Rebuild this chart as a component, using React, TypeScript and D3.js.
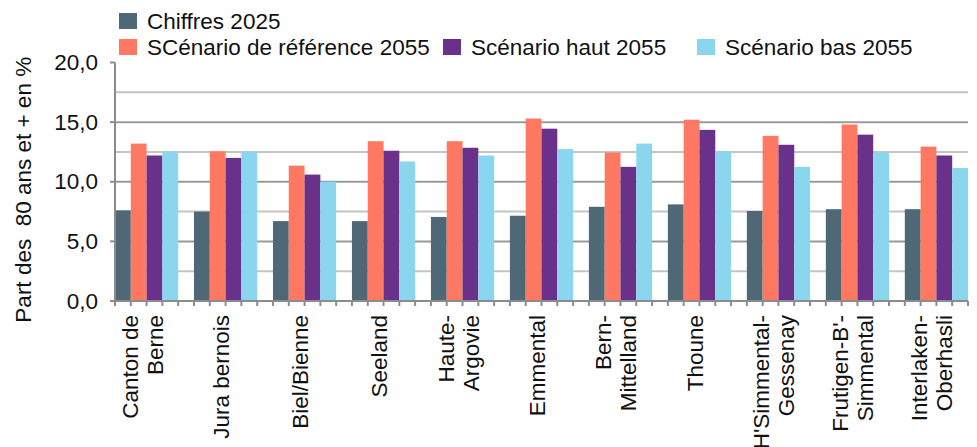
import React, { useEffect, useRef } from 'react';
import * as d3 from 'd3';

// Régions du canton (lignes de l'étiquette)
const regions: string[][] = [
  ['Canton de', 'Berne'],
  ['Jura bernois'],
  ['Biel/Bienne'],
  ['Seeland'],
  ['Haute-', 'Argovie'],
  ['Emmental'],
  ['Bern-', 'Mittelland'],
  ['Thoune'],
  ["H'Simmental-", 'Gessenay'],
  ["Frutigen-B'-", 'Simmental'],
  ['Interlaken-', 'Oberhasli'],
];

const chiffres2025 = [7.6, 7.5, 6.7, 6.7, 7.05, 7.15, 7.9, 8.1, 7.55, 7.7, 7.7];
const reference2055 = [13.2, 12.55, 11.35, 13.4, 13.4, 15.3, 12.45, 15.2, 13.85, 14.8, 12.95];
const haut2055 = [12.2, 12.0, 10.6, 12.6, 12.85, 14.45, 11.25, 14.35, 13.1, 13.95, 12.2];
const bas2055 = [12.5, 12.5, 10.0, 11.7, 12.2, 12.75, 13.2, 12.55, 11.25, 12.45, 11.15];

const seriesNames = ['Chiffres 2025', 'SCénario de référence 2055', 'Scénario haut 2055', 'Scénario bas 2055'];
const seriesColors = ['#4e6975', '#ff7862', '#69318a', '#8bd6ef'];
const seriesValues = [chiffres2025, reference2055, haut2055, bas2055];

const yTicks = [0, 5, 10, 15, 20];
const gridValues = [2.5, 5, 7.5, 10, 12.5, 15, 17.5];

const yTitle = 'Part des  80 ans et + en %';

export default function App() {
  const svgRef = useRef<SVGSVGElement | null>(null);

  useEffect(() => {
    if (!svgRef.current) return;
    const svg = d3.select(svgRef.current);
    svg.selectAll('*').remove();

    const width = 977;
    const height = 447;
    const margin = { top: 62.5, left: 115, right: 9, bottom: 146 };
    const innerW = width - margin.left - margin.right;
    const innerH = height - margin.top - margin.bottom;
    const font = 'Liberation Sans, Arial, sans-serif';
    const fontSize = 22.5;

    svg.attr('width', width).attr('height', height);

    const x0 = d3.scaleBand<number>()
      .domain(d3.range(regions.length))
      .range([0, innerW])
      .paddingInner(0.2)
      .paddingOuter(0);
    const x1 = d3.scaleBand<number>()
      .domain(d3.range(seriesNames.length))
      .range([0, x0.bandwidth()]);
    const slot = x1.bandwidth();

    const y = d3.scaleLinear().domain([0, 20]).range([innerH, 0]);
    const fmt = (v: number) => d3.format('.1f')(v).replace('.', ',');

    const g = svg.append('g').attr('transform', `translate(${margin.left},${margin.top})`);

    // Gridlines
    g.selectAll('line.grid')
      .data(gridValues)
      .join('line')
      .attr('x1', 0)
      .attr('x2', innerW)
      .attr('y1', (d) => y(d))
      .attr('y2', (d) => y(d))
      .attr('stroke', (d) => (d % 5 === 0 ? '#9a9a9a' : '#c4c4c4'))
      .attr('stroke-width', 2);

    // Bars
    const groups = g.selectAll('g.group')
      .data(regions.map((_, i) => i))
      .join('g')
      .attr('transform', (i) => `translate(${x0(i)},0)`);

    groups.selectAll('rect')
      .data((i) => seriesValues.map((vals, s) => ({ s, v: vals[i] })))
      .join('rect')
      .attr('x', (d) => x1(d.s) ?? 0)
      .attr('y', (d) => y(d.v))
      .attr('width', slot)
      .attr('height', (d) => innerH - y(d.v))
      .attr('fill', (d) => seriesColors[d.s]);

    // Y axis
    g.append('line')
      .attr('x1', 0).attr('x2', 0)
      .attr('y1', 0).attr('y2', innerH)
      .attr('stroke', '#8c8c8c').attr('stroke-width', 2);

    g.selectAll('line.ytick')
      .data(yTicks)
      .join('line')
      .attr('x1', -5).attr('x2', 0)
      .attr('y1', (d) => y(d)).attr('y2', (d) => y(d))
      .attr('stroke', '#8c8c8c').attr('stroke-width', 2);

    g.selectAll('text.ylabel')
      .data(yTicks)
      .join('text')
      .attr('x', -17)
      .attr('y', (d) => y(d))
      .attr('text-anchor', 'end')
      .attr('dominant-baseline', 'central')
      .attr('font-family', font)
      .attr('font-size', fontSize)
      .attr('fill', '#111')
      .text((d) => fmt(d));

    // X axis
    g.append('line')
      .attr('x1', 0).attr('x2', innerW)
      .attr('y1', innerH).attr('y2', innerH)
      .attr('stroke', '#8c8c8c').attr('stroke-width', 2);

    const nSlots = Math.round(innerW / slot);
    g.selectAll('line.xtick')
      .data(d3.range(nSlots + 1))
      .join('line')
      .attr('x1', (k) => k * slot).attr('x2', (k) => k * slot)
      .attr('y1', innerH).attr('y2', innerH + 5)
      .attr('stroke', '#8c8c8c').attr('stroke-width', 2);

    // Category labels (rotated)
    const lineGap = 25;
    regions.forEach((lines, i) => {
      const cx = (x0(i) ?? 0) + 2 * slot - 4;
      lines.forEach((line, li) => {
        const off = (li - (lines.length - 1) / 2) * lineGap;
        g.append('text')
          .attr('transform', `translate(${cx + off},${innerH + 14}) rotate(-90)`)
          .attr('text-anchor', 'end')
          .attr('dominant-baseline', 'central')
          .attr('font-family', font)
          .attr('font-size', fontSize)
          .attr('fill', '#111')
          .text(line);
      });
    });

    // Y title
    svg.append('text')
      .attr('transform', `translate(23,${margin.top + innerH / 2 + 8}) rotate(-90)`)
      .attr('text-anchor', 'middle')
      .attr('dominant-baseline', 'central')
      .attr('font-family', font)
      .attr('font-size', fontSize)
      .attr('fill', '#111')
      .style('white-space', 'pre')
      .text(yTitle);

    // Legend
    const legendPos = [
      { x: 119, y: 13 },
      { x: 119, y: 39 },
      { x: 443, y: 39 },
      { x: 697, y: 39 },
    ];
    seriesNames.forEach((name, s) => {
      const p = legendPos[s];
      svg.append('rect')
        .attr('x', p.x).attr('y', p.y)
        .attr('width', 18).attr('height', 16)
        .attr('fill', seriesColors[s]);
      svg.append('text')
        .attr('x', p.x + 28)
        .attr('y', p.y + 16)
        .attr('font-family', font)
        .attr('font-size', fontSize)
        .attr('fill', '#111')
        .text(name);
    });
  }, []);

  return (
    <div style={{ position: 'absolute', left: 0, top: 0 }}>
      <svg ref={svgRef} style={{ display: 'block', background: '#fff' }} />
    </div>
  );
}
